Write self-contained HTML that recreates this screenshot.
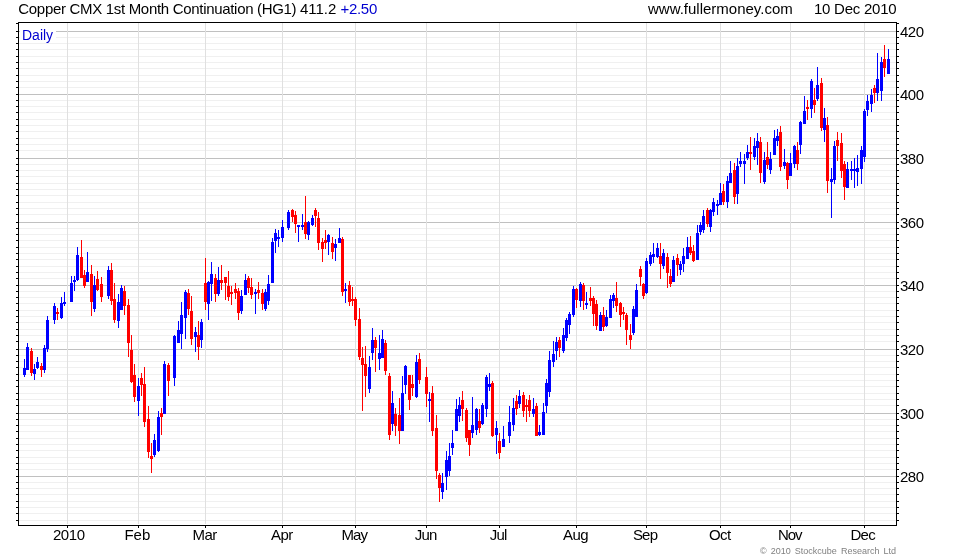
<!DOCTYPE html>
<html lang="en"><head><meta charset="utf-8"><title>Copper CMX 1st Month Continuation (HG1)</title>
<style>
html,body{margin:0;padding:0;background:#fff;}
body{width:980px;height:560px;overflow:hidden;position:relative;font-family:"Liberation Sans",Arial,sans-serif;}
svg{position:absolute;left:0;top:0;display:block}
.t{position:absolute;white-space:nowrap;color:#000;line-height:1;}
.title{font-size:15px;top:1px;}
.yl{font-size:15px;left:900px;letter-spacing:-0.5px}
.xl{font-size:15px;top:527px;}
.daily{font-size:14px;color:#0000d0;left:20px;top:23px;width:36px;height:20px;background:#fff;box-sizing:border-box;padding:5px 0 0 2px;}
.copy{font-size:9px;color:#808080;top:546.5px;left:760px;letter-spacing:0px;word-spacing:1.6px}
.blue{color:#0000d0}
</style></head><body>
<svg width="980" height="560" viewBox="0 0 980 560" shape-rendering="crispEdges">
<path d="M19 520.5H896M19 513.5H896M19 507.5H896M19 501.5H896M19 494.5H896M19 488.5H896M19 482.5H896M19 469.5H896M19 463.5H896M19 457.5H896M19 450.5H896M19 444.5H896M19 438.5H896M19 431.5H896M19 425.5H896M19 419.5H896M19 405.5H896M19 399.5H896M19 393.5H896M19 386.5H896M19 380.5H896M19 374.5H896M19 367.5H896M19 361.5H896M19 355.5H896M19 341.5H896M19 335.5H896M19 329.5H896M19 322.5H896M19 316.5H896M19 310.5H896M19 303.5H896M19 297.5H896M19 291.5H896M19 278.5H896M19 272.5H896M19 266.5H896M19 259.5H896M19 253.5H896M19 247.5H896M19 240.5H896M19 234.5H896M19 228.5H896M19 214.5H896M19 208.5H896M19 202.5H896M19 195.5H896M19 189.5H896M19 183.5H896M19 176.5H896M19 170.5H896M19 164.5H896M19 150.5H896M19 144.5H896M19 138.5H896M19 131.5H896M19 125.5H896M19 119.5H896M19 112.5H896M19 106.5H896M19 100.5H896M19 87.5H896M19 81.5H896M19 75.5H896M19 68.5H896M19 62.5H896M19 56.5H896M19 49.5H896M19 43.5H896M19 37.5H896" stroke="#f0f0f0" stroke-width="1" fill="none"/>
<path d="M19 476.5H896M19 413.5H896M19 349.5H896M19 285.5H896M19 222.5H896M19 158.5H896M19 94.5H896M19 31.5H896" stroke="#c0c0c0" stroke-width="1" fill="none"/>
<path d="M67.5 23V524M138.5 23V524M205.5 23V524M282.5 23V524M355.5 23V524M426.5 23V524M499.5 23V524M576.5 23V524M646.5 23V524M720.5 23V524M790.5 23V524M864.5 23V524" stroke="#e0e0e0" stroke-width="1" fill="none"/>
<path d="M24 359h1V377h-1zM23 368h3V375h-3zM27 343h1V370h-1zM26 347h3V370h-3zM34 364h1V380h-1zM33 369h3V374h-3zM37 357h1V369h-1zM36 362h3V368h-3zM44 345h1V373h-1zM43 348h3V370h-3zM47 316h1V352h-1zM46 320h3V349h-3zM54 303h1V324h-1zM53 306h3V320h-3zM61 297h1V319h-1zM60 303h3V318h-3zM64 292h1V306h-1zM63 302h3V304h-3zM71 276h1V302h-1zM70 283h3V302h-3zM74 276h1V291h-1zM73 280h3V282h-3zM77 247h1V281h-1zM76 255h3V280h-3zM87 252h1V282h-1zM86 272h3V282h-3zM94 276h1V312h-1zM93 285h3V309h-3zM108 266h1V299h-1zM107 270h3V296h-3zM118 294h1V328h-1zM117 302h3V321h-3zM121 285h1V310h-1zM120 288h3V310h-3zM138 378h1V416h-1zM137 386h3V401h-3zM154 434h1V457h-1zM153 440h3V455h-3zM158 411h1V452h-1zM157 417h3V451h-3zM164 361h1V414h-1zM163 364h3V414h-3zM174 335h1V386h-1zM173 336h3V378h-3zM178 321h1V343h-1zM177 330h3V343h-3zM181 302h1V349h-1zM180 315h3V334h-3zM185 290h1V339h-1zM184 292h3V318h-3zM195 327h1V352h-1zM194 332h3V337h-3zM201 319h1V348h-1zM200 322h3V340h-3zM208 281h1V320h-1zM207 282h3V304h-3zM211 262h1V301h-1zM210 274h3V284h-3zM218 267h1V296h-1zM217 280h3V294h-3zM241 290h1V314h-1zM240 296h3V311h-3zM245 274h1V295h-1zM244 280h3V295h-3zM255 289h1V314h-1zM254 292h3V294h-3zM265 289h1V311h-1zM264 292h3V309h-3zM268 275h1V305h-1zM267 284h3V301h-3zM272 238h1V283h-1zM271 242h3V283h-3zM275 229h1V253h-1zM274 233h3V241h-3zM278 230h1V247h-1zM277 237h3V239h-3zM282 220h1V242h-1zM281 227h3V238h-3zM288 210h1V230h-1zM287 212h3V228h-3zM298 225h1V242h-1zM297 225h3V227h-3zM302 214h1V230h-1zM301 225h3V227h-3zM308 221h1V240h-1zM307 222h3V235h-3zM312 215h1V226h-1zM311 218h3V225h-3zM328 234h1V255h-1zM327 235h3V242h-3zM335 239h1V261h-1zM334 244h3V248h-3zM339 228h1V243h-1zM338 238h3V243h-3zM345 283h1V303h-1zM344 289h3V291h-3zM369 356h1V393h-1zM368 367h3V389h-3zM372 328h1V360h-1zM371 340h3V353h-3zM379 335h1V370h-1zM378 353h3V359h-3zM382 330h1V358h-1zM381 339h3V358h-3zM392 391h1V431h-1zM391 403h3V424h-3zM402 376h1V431h-1zM401 393h3V431h-3zM405 365h1V394h-1zM404 366h3V385h-3zM416 355h1V398h-1zM415 362h3V397h-3zM429 392h1V422h-1zM428 399h3V401h-3zM442 473h1V499h-1zM441 483h3V492h-3zM446 451h1V490h-1zM445 460h3V477h-3zM449 443h1V476h-1zM448 456h3V471h-3zM452 430h1V455h-1zM451 443h3V448h-3zM456 399h1V431h-1zM455 409h3V431h-3zM459 397h1V422h-1zM458 405h3V416h-3zM472 397h1V438h-1zM471 425h3V433h-3zM476 408h1V435h-1zM475 409h3V430h-3zM482 403h1V425h-1zM481 405h3V424h-3zM486 375h1V417h-1zM485 377h3V409h-3zM489 373h1V391h-1zM488 384h3V387h-3zM496 421h1V454h-1zM495 428h3V435h-3zM503 426h1V447h-1zM502 439h3V447h-3zM509 406h1V443h-1zM508 422h3V436h-3zM513 398h1V431h-1zM512 408h3V425h-3zM519 390h1V408h-1zM518 396h3V404h-3zM533 398h1V417h-1zM532 409h3V414h-3zM539 425h1V436h-1zM538 432h3V435h-3zM543 403h1V435h-1zM542 412h3V435h-3zM546 379h1V413h-1zM545 383h3V406h-3zM549 351h1V397h-1zM548 360h3V392h-3zM553 341h1V367h-1zM552 354h3V362h-3zM556 337h1V360h-1zM555 342h3V351h-3zM563 328h1V353h-1zM562 335h3V351h-3zM566 318h1V341h-1zM565 320h3V338h-3zM569 312h1V334h-1zM568 314h3V325h-3zM573 286h1V317h-1zM572 289h3V315h-3zM580 282h1V307h-1zM579 284h3V301h-3zM586 292h1V309h-1zM585 303h3V305h-3zM600 312h1V331h-1zM599 315h3V331h-3zM606 310h1V327h-1zM605 317h3V326h-3zM610 295h1V318h-1zM609 299h3V318h-3zM613 293h1V308h-1zM612 295h3V301h-3zM633 306h1V335h-1zM632 309h3V333h-3zM636 284h1V317h-1zM635 290h3V317h-3zM646 258h1V294h-1zM645 261h3V293h-3zM650 252h1V266h-1zM649 255h3V264h-3zM653 243h1V263h-1zM652 254h3V257h-3zM657 243h1V258h-1zM656 248h3V257h-3zM663 249h1V269h-1zM662 253h3V266h-3zM673 256h1V282h-1zM672 260h3V282h-3zM680 261h1V275h-1zM679 264h3V270h-3zM683 248h1V272h-1zM682 256h3V264h-3zM687 237h1V259h-1zM686 247h3V259h-3zM697 225h1V260h-1zM696 233h3V260h-3zM700 222h1V235h-1zM699 225h3V232h-3zM703 210h1V233h-1zM702 216h3V230h-3zM710 209h1V232h-1zM709 210h3V227h-3zM713 198h1V216h-1zM712 202h3V212h-3zM717 200h1V215h-1zM716 204h3V206h-3zM720 183h1V205h-1zM719 193h3V205h-3zM727 176h1V208h-1zM726 181h3V202h-3zM730 161h1V183h-1zM729 173h3V183h-3zM737 158h1V204h-1zM736 166h3V194h-3zM740 152h1V167h-1zM739 161h3V164h-3zM744 154h1V184h-1zM743 161h3V164h-3zM747 145h1V160h-1zM746 152h3V158h-3zM754 138h1V160h-1zM753 146h3V157h-3zM757 133h1V165h-1zM756 141h3V148h-3zM764 152h1V184h-1zM763 160h3V182h-3zM770 152h1V174h-1zM769 159h3V170h-3zM774 130h1V155h-1zM773 138h3V155h-3zM777 129h1V146h-1zM776 136h3V141h-3zM784 149h1V169h-1zM783 162h3V166h-3zM790 153h1V176h-1zM789 163h3V176h-3zM794 145h1V168h-1zM793 146h3V164h-3zM800 121h1V154h-1zM799 122h3V145h-3zM804 96h1V124h-1zM803 111h3V124h-3zM811 79h1V118h-1zM810 81h3V109h-3zM817 67h1V101h-1zM816 85h3V99h-3zM824 108h1V142h-1zM823 118h3V130h-3zM831 168h1V218h-1zM830 179h3V182h-3zM834 141h1V184h-1zM833 146h3V180h-3zM847 162h1V188h-1zM846 169h3V188h-3zM851 161h1V180h-1zM850 169h3V171h-3zM854 158h1V188h-1zM853 169h3V171h-3zM857 155h1V186h-1zM856 168h3V172h-3zM861 146h1V184h-1zM860 150h3V169h-3zM864 109h1V162h-1zM863 111h3V157h-3zM867 95h1V116h-1zM866 101h3V110h-3zM871 89h1V112h-1zM870 95h3V104h-3zM877 53h1V101h-1zM876 79h3V93h-3zM881 57h1V101h-1zM880 62h3V91h-3zM888 49h1V74h-1zM887 59h3V74h-3z" fill="#0000ff"/>
<path d="M31 348h1V376h-1zM30 351h3V373h-3zM41 363h1V377h-1zM40 366h3V370h-3zM57 308h1V320h-1zM56 312h3V314h-3zM81 240h1V278h-1zM80 257h3V278h-3zM84 270h1V288h-1zM83 275h3V286h-3zM91 265h1V316h-1zM90 274h3V302h-3zM97 271h1V291h-1zM96 279h3V290h-3zM101 277h1V302h-1zM100 284h3V297h-3zM111 263h1V305h-1zM110 270h3V301h-3zM114 283h1V323h-1zM113 299h3V320h-3zM124 286h1V315h-1zM123 291h3V306h-3zM128 299h1V357h-1zM127 305h3V343h-3zM131 335h1V383h-1zM130 350h3V382h-3zM134 364h1V402h-1zM133 375h3V397h-3zM141 373h1V396h-1zM140 378h3V385h-3zM144 367h1V427h-1zM143 384h3V422h-3zM148 406h1V458h-1zM147 419h3V452h-3zM151 443h1V473h-1zM150 456h3V459h-3zM161 408h1V435h-1zM160 413h3V417h-3zM168 363h1V396h-1zM167 365h3V381h-3zM188 289h1V315h-1zM187 293h3V309h-3zM191 296h1V345h-1zM190 311h3V339h-3zM198 321h1V360h-1zM197 335h3V347h-3zM205 258h1V310h-1zM204 283h3V302h-3zM215 274h1V302h-1zM214 278h3V294h-3zM221 265h1V290h-1zM220 280h3V283h-3zM225 277h1V300h-1zM224 277h3V283h-3zM228 271h1V301h-1zM227 286h3V297h-3zM231 286h1V305h-1zM230 292h3V294h-3zM235 283h1V299h-1zM234 289h3V293h-3zM238 288h1V320h-1zM237 291h3V313h-3zM248 276h1V293h-1zM247 278h3V288h-3zM251 278h1V299h-1zM250 287h3V295h-3zM258 282h1V299h-1zM257 290h3V293h-3zM262 289h1V310h-1zM261 293h3V304h-3zM292 209h1V222h-1zM291 210h3V217h-3zM295 211h1V233h-1zM294 215h3V224h-3zM305 196h1V239h-1zM304 222h3V234h-3zM315 208h1V227h-1zM314 210h3V216h-3zM318 212h1V250h-1zM317 218h3V243h-3zM322 238h1V262h-1zM321 242h3V249h-3zM325 230h1V249h-1zM324 240h3V243h-3zM332 237h1V259h-1zM331 243h3V252h-3zM342 237h1V296h-1zM341 239h3V292h-3zM349 281h1V306h-1zM348 285h3V302h-3zM352 287h1V306h-1zM351 299h3V301h-3zM355 297h1V326h-1zM354 299h3V320h-3zM359 308h1V360h-1zM358 319h3V357h-3zM362 347h1V411h-1zM361 358h3V365h-3zM365 346h1V397h-1zM364 364h3V376h-3zM375 337h1V372h-1zM374 340h3V348h-3zM385 340h1V375h-1zM384 343h3V371h-3zM389 373h1V440h-1zM388 376h3V435h-3zM395 408h1V436h-1zM394 414h3V426h-3zM399 398h1V444h-1zM398 415h3V431h-3zM409 375h1V410h-1zM408 375h3V400h-3zM412 375h1V396h-1zM411 384h3V388h-3zM419 353h1V384h-1zM418 359h3V380h-3zM426 367h1V407h-1zM425 377h3V394h-3zM432 386h1V436h-1zM431 393h3V431h-3zM436 415h1V479h-1zM435 428h3V471h-3zM439 473h1V502h-1zM438 475h3V488h-3zM462 391h1V421h-1zM461 400h3V409h-3zM466 408h1V442h-1zM465 410h3V438h-3zM469 430h1V456h-1zM468 430h3V445h-3zM479 409h1V433h-1zM478 421h3V428h-3zM492 381h1V437h-1zM491 383h3V436h-3zM499 433h1V459h-1zM498 441h3V453h-3zM516 395h1V415h-1zM515 401h3V409h-3zM523 392h1V417h-1zM522 395h3V411h-3zM526 399h1V422h-1zM525 405h3V407h-3zM529 395h1V417h-1zM528 400h3V411h-3zM536 403h1V436h-1zM535 406h3V436h-3zM559 337h1V357h-1zM558 340h3V348h-3zM576 288h1V308h-1zM575 289h3V300h-3zM583 283h1V310h-1zM582 285h3V301h-3zM590 287h1V306h-1zM589 298h3V301h-3zM593 296h1V326h-1zM592 298h3V314h-3zM596 300h1V330h-1zM595 304h3V326h-3zM603 307h1V331h-1zM602 315h3V327h-3zM616 282h1V312h-1zM615 298h3V306h-3zM620 302h1V327h-1zM619 303h3V315h-3zM623 307h1V320h-1zM622 312h3V314h-3zM626 313h1V345h-1zM625 315h3V330h-3zM630 324h1V349h-1zM629 335h3V340h-3zM640 266h1V286h-1zM639 269h3V277h-3zM643 283h1V299h-1zM642 284h3V296h-3zM660 243h1V279h-1zM659 256h3V264h-3zM667 253h1V288h-1zM666 257h3V273h-3zM670 269h1V287h-1zM669 276h3V284h-3zM677 254h1V276h-1zM676 258h3V265h-3zM690 236h1V255h-1zM689 247h3V253h-3zM693 245h1V262h-1zM692 251h3V261h-3zM707 208h1V227h-1zM706 210h3V224h-3zM723 184h1V205h-1zM722 191h3V202h-3zM734 163h1V204h-1zM733 170h3V197h-3zM750 137h1V170h-1zM749 152h3V154h-3zM760 137h1V183h-1zM759 142h3V173h-3zM767 142h1V169h-1zM766 157h3V165h-3zM780 126h1V171h-1zM779 132h3V167h-3zM787 162h1V189h-1zM786 163h3V180h-3zM797 142h1V170h-1zM796 150h3V164h-3zM807 100h1V120h-1zM806 107h3V109h-3zM814 88h1V113h-1zM813 100h3V105h-3zM821 78h1V131h-1zM820 83h3V128h-3zM827 117h1V193h-1zM826 125h3V181h-3zM837 132h1V161h-1zM836 140h3V146h-3zM841 133h1V178h-1zM840 143h3V171h-3zM844 161h1V200h-1zM843 164h3V187h-3zM874 85h1V103h-1zM873 88h3V93h-3zM884 45h1V77h-1zM883 59h3V68h-3z" fill="#ff0000"/>
<path d="M18.5 22.5H896.5V525.5H18.5z" stroke="#000" stroke-width="1" fill="none"/>
<path d="M16 520.5H18M897 520.5H899M16 513.5H18M897 513.5H899M16 507.5H18M897 507.5H899M16 501.5H18M897 501.5H899M16 494.5H18M897 494.5H899M16 488.5H18M897 488.5H899M16 482.5H18M897 482.5H899M16 476.5H18M897 476.5H899M16 469.5H18M897 469.5H899M16 463.5H18M897 463.5H899M16 457.5H18M897 457.5H899M16 450.5H18M897 450.5H899M16 444.5H18M897 444.5H899M16 438.5H18M897 438.5H899M16 431.5H18M897 431.5H899M16 425.5H18M897 425.5H899M16 419.5H18M897 419.5H899M16 413.5H18M897 413.5H899M16 405.5H18M897 405.5H899M16 399.5H18M897 399.5H899M16 393.5H18M897 393.5H899M16 386.5H18M897 386.5H899M16 380.5H18M897 380.5H899M16 374.5H18M897 374.5H899M16 367.5H18M897 367.5H899M16 361.5H18M897 361.5H899M16 355.5H18M897 355.5H899M16 349.5H18M897 349.5H899M16 341.5H18M897 341.5H899M16 335.5H18M897 335.5H899M16 329.5H18M897 329.5H899M16 322.5H18M897 322.5H899M16 316.5H18M897 316.5H899M16 310.5H18M897 310.5H899M16 303.5H18M897 303.5H899M16 297.5H18M897 297.5H899M16 291.5H18M897 291.5H899M16 285.5H18M897 285.5H899M16 278.5H18M897 278.5H899M16 272.5H18M897 272.5H899M16 266.5H18M897 266.5H899M16 259.5H18M897 259.5H899M16 253.5H18M897 253.5H899M16 247.5H18M897 247.5H899M16 240.5H18M897 240.5H899M16 234.5H18M897 234.5H899M16 228.5H18M897 228.5H899M16 222.5H18M897 222.5H899M16 214.5H18M897 214.5H899M16 208.5H18M897 208.5H899M16 202.5H18M897 202.5H899M16 195.5H18M897 195.5H899M16 189.5H18M897 189.5H899M16 183.5H18M897 183.5H899M16 176.5H18M897 176.5H899M16 170.5H18M897 170.5H899M16 164.5H18M897 164.5H899M16 158.5H18M897 158.5H899M16 150.5H18M897 150.5H899M16 144.5H18M897 144.5H899M16 138.5H18M897 138.5H899M16 131.5H18M897 131.5H899M16 125.5H18M897 125.5H899M16 119.5H18M897 119.5H899M16 112.5H18M897 112.5H899M16 106.5H18M897 106.5H899M16 100.5H18M897 100.5H899M16 94.5H18M897 94.5H899M16 87.5H18M897 87.5H899M16 81.5H18M897 81.5H899M16 75.5H18M897 75.5H899M16 68.5H18M897 68.5H899M16 62.5H18M897 62.5H899M16 56.5H18M897 56.5H899M16 49.5H18M897 49.5H899M16 43.5H18M897 43.5H899M16 37.5H18M897 37.5H899M16 31.5H18M897 31.5H899M16 23.5H18M897 23.5H899M67.5 526V528M138.5 526V528M205.5 526V528M282.5 526V528M355.5 526V528M426.5 526V528M499.5 526V528M576.5 526V528M646.5 526V528M720.5 526V528M790.5 526V528M864.5 526V528" stroke="#000" stroke-width="1" fill="none"/>
</svg>
<div class="t title" style="left:18.3px"><span style="letter-spacing:-0.31px">Copper CMX 1st Month Continuation </span><span style="letter-spacing:-0.36px">(HG1) </span>411.2 <span class="blue" style="letter-spacing:-0.3px">+2.50</span></div>
<div class="t title" style="left:648px">www.fullermoney.com</div>
<div class="t title" style="left:814px;letter-spacing:-0.25px">10 Dec 2010</div>
<div class="t daily">Daily</div>
<div class="t yl" style="top:469px">280</div>
<div class="t yl" style="top:406px">300</div>
<div class="t yl" style="top:342px">320</div>
<div class="t yl" style="top:278px">340</div>
<div class="t yl" style="top:215px">360</div>
<div class="t yl" style="top:151px">380</div>
<div class="t yl" style="top:87px">400</div>
<div class="t yl" style="top:24px">420</div>
<div class="t xl" style="left:52.9px;letter-spacing:-0.43px">2010</div>
<div class="t xl" style="left:124.4px;letter-spacing:0.0px">Feb</div>
<div class="t xl" style="left:192.4px;letter-spacing:-0.44px">Mar</div>
<div class="t xl" style="left:271.0px;letter-spacing:-0.5px">Apr</div>
<div class="t xl" style="left:341.4px;letter-spacing:-0.83px">May</div>
<div class="t xl" style="left:414.75px;letter-spacing:-0.83px">Jun</div>
<div class="t xl" style="left:489.75px;letter-spacing:-0.83px">Jul</div>
<div class="t xl" style="left:563.0px;letter-spacing:-0.54px">Aug</div>
<div class="t xl" style="left:632.9px;letter-spacing:-0.78px">Sep</div>
<div class="t xl" style="left:708.9px;letter-spacing:-0.58px">Oct</div>
<div class="t xl" style="left:777.9px;letter-spacing:-1.04px">Nov</div>
<div class="t xl" style="left:850.4px;letter-spacing:-0.66px">Dec</div>
<div class="t copy">&copy; 2010 Stockcube Research Ltd</div>
</body></html>
